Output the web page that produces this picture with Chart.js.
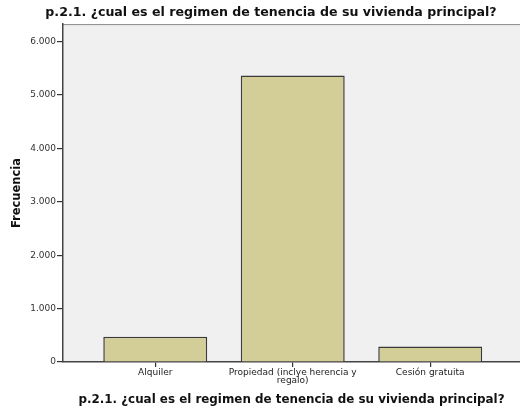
<!DOCTYPE html>
<html>
<head>
<meta charset="utf-8">
<script src="https://cdn.jsdelivr.net/npm/chart.js@4"></script>
<style>
html,body{margin:0;padding:0;background:#fff;}
#wrap{width:520px;height:415px;position:relative;}
</style>
</head>
<body>
<div id="wrap"><canvas id="c" width="520" height="415"></canvas></div>
<script>
const chartTitle = "p.2.1. ¿cual es el regimen de tenencia de su vivienda principal?";
const categories = ["Alquiler", ["Propiedad (inclye herencia y", "regalo)"], "Cesión gratuita"];
const frecuencia = [474, 5363, 292];
const yTicks = [0, 1000, 2000, 3000, 4000, 5000, 6000];
const yAxisTitle = "Frecuencia";

const points = frecuencia.map((v, i) => ({x: i, y: v}));

const bgPlugin = {
  id: 'bgPlugin',
  beforeDraw(chart) {
    const {ctx, chartArea: a} = chart;
    ctx.save();
    ctx.fillStyle = '#f0f0f0';
    ctx.fillRect(a.left, a.top, a.right - a.left, a.bottom - a.top);
    ctx.strokeStyle = '#8a8a8a';
    ctx.lineWidth = 1;
    ctx.beginPath();
    ctx.moveTo(a.left, a.top + 0.5);
    ctx.lineTo(a.right, a.top + 0.5);
    ctx.stroke();
    ctx.restore();
  }
};

const fmt = v => String(v).replace(/\B(?=(\d{3})+(?!\d))/g, '.');

new Chart(document.getElementById('c'), {
  type: 'bar',
  data: {
    datasets: [{
      data: points,
      backgroundColor: '#d3ce98',
      borderColor: '#3a3a3a',
      borderWidth: 1.5,
      categoryPercentage: 1,
      barPercentage: 0.756
    }]
  },
  options: {
    responsive: false,
    animation: false,
    devicePixelRatio: 1,
    layout: {padding: {left: 22, right: 0, top: 0, bottom: 0}},
    plugins: {
      legend: {display: false},
      tooltip: {enabled: false},
      title: {
        display: true,
        text: chartTitle,
        color: '#111',
        font: {family: 'DejaVu Sans', size: 12.6, weight: 'bold'},
        padding: {top: 5, bottom: 4}
      }
    },
    scales: {
      x: {
        type: 'linear',
        offset: false,
        min: -0.671,
        max: 2.653,
        afterBuildTicks(s) { s.ticks = [0, 1, 2].map(v => ({value: v})); },
        afterFit(s) { s.height = 53; },
        border: {display: true, color: '#444', width: 1.5},
        grid: {display: true, offset: false, drawOnChartArea: false, tickLength: 5, color: '#333', lineWidth: 1.2},
        ticks: {
          autoSkip: false,
          maxRotation: 0,
          padding: 1,
          color: '#222',
          font: {family: 'DejaVu Sans', size: 9, lineHeight: 0.95},
          callback: v => categories[v]
        },
        title: {
          display: true,
          text: chartTitle,
          color: '#111',
          font: {family: 'DejaVu Sans', size: 11.9, weight: 'bold'},
          padding: {top: 0, bottom: 8}
        }
      },
      y: {
        min: 0,
        max: 6325,
        afterBuildTicks(s) { s.ticks = yTicks.map(v => ({value: v})); },
        afterFit(s) { s.width = 41; },
        border: {display: true, color: '#444', width: 1.5},
        grid: {display: true, drawOnChartArea: false, tickLength: 6, color: '#333', lineWidth: 1.2},
        ticks: {
          padding: 1,
          color: '#333',
          font: {family: 'DejaVu Sans', size: 9},
          callback: v => fmt(v)
        },
        title: {
          display: true,
          text: yAxisTitle,
          color: '#111',
          font: {family: 'DejaVu Sans', size: 11.5, weight: 'bold'},
          padding: {top: -11.9, bottom: 0}
        }
      }
    }
  },
  plugins: [bgPlugin]
});
</script>
</body>
</html>
